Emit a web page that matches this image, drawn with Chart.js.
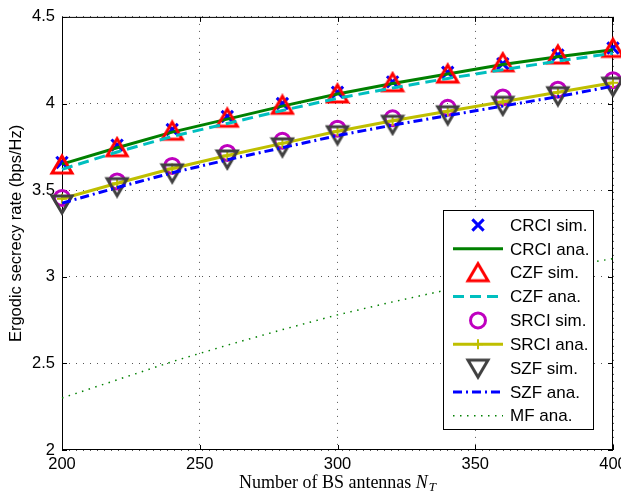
<!DOCTYPE html>
<html>
<head>
<meta charset="utf-8">
<script src="https://cdn.jsdelivr.net/npm/chart.js@4.4.0/dist/chart.umd.min.js"></script>
<style>
    html, body { margin: 0; padding: 0; background: #fff; overflow: hidden; }
    #wrap { width: 640px; height: 493px; }
</style>
</head>
<body>
<div id="wrap"><canvas id="chart" width="640" height="493"></canvas></div>
<script>
// values
const antennas = [200, 220, 240, 260, 280, 300, 320, 340, 360, 380, 400];
const crciSim = [3.66, 3.76, 3.85, 3.925, 4.00, 4.065, 4.125, 4.18, 4.23, 4.28, 4.32];
const crciAna = [3.65, 3.745, 3.835, 3.91, 3.985, 4.055, 4.115, 4.17, 4.225, 4.27, 4.31];
const czfSim = [3.645, 3.745, 3.84, 3.915, 3.99, 4.055, 4.12, 4.17, 4.235, 4.28, 4.318];
const czfAna = [3.62, 3.72, 3.81, 3.885, 3.96, 4.03, 4.09, 4.145, 4.195, 4.245, 4.29];
const srciSim = [3.455, 3.55, 3.64, 3.715, 3.785, 3.855, 3.915, 3.975, 4.035, 4.08, 4.135];
const srciAna = [3.45, 3.54, 3.625, 3.70, 3.77, 3.84, 3.90, 3.955, 4.01, 4.065, 4.12];
const szfSim = [3.42, 3.52, 3.60, 3.68, 3.75, 3.82, 3.88, 3.935, 3.99, 4.045, 4.10];
const szfAna = [3.425, 3.515, 3.60, 3.675, 3.745, 3.815, 3.875, 3.93, 3.985, 4.04, 4.10];
const mfAna = [2.30, 2.405, 2.51, 2.605, 2.695, 2.78, 2.855, 2.925, 2.99, 3.05, 3.105];

const xTicks = [200, 250, 300, 350, 400];
const yTicks = [2, 2.5, 3, 3.5, 4, 4.5];

const xTitle = 'Number of BS antennas ';
const yTitle = 'Ergodic secrecy rate (bps/Hz)';

const sansFont = '"Liberation Sans", Arial, sans-serif';
Chart.defaults.font.family = sansFont;
Chart.defaults.font.size = 16.5;
Chart.defaults.color = '#000';

function pts(values) {
    return antennas.map((a, i) => ({ x: a, y: values[i] }));
}

// matlab style triangle marker, centred on its bounding box
function triangleMarker(color, down) {
    const c = document.createElement('canvas');
    c.width = 26;
    c.height = 24;
    const g = c.getContext('2d');
    g.strokeStyle = color;
    g.lineWidth = 3;
    g.lineJoin = 'miter';
    g.beginPath();
    if (down) {
        g.moveTo(3, 4); g.lineTo(23, 4); g.lineTo(13, 21);
    } else {
        g.moveTo(13, 3); g.lineTo(23, 20); g.lineTo(3, 20);
    }
    g.closePath();
    g.stroke();
    return c;
}

function markerSet(label, values, style, color, radius) {
    return {
        label: label,
        data: pts(values),
        showLine: false,
        pointStyle: style,
        pointRadius: radius,
        pointBorderColor: color,
        pointBackgroundColor: 'rgba(0,0,0,0)',
        pointBorderWidth: 3,
        borderColor: color,
        clip: false
    };
}

function lineSet(label, values, color, width, dash) {
    return {
        label: label,
        data: pts(values),
        borderColor: color,
        borderWidth: width,
        borderDash: dash || [],
        pointRadius: 0,
        tension: 0,
        fill: false,
        clip: false
    };
}

const datasets = [
    markerSet('CRCI sim.', crciSim, 'crossRot', '#0000ff', 8),
    lineSet('CRCI ana.', crciAna, '#008000', 3),
    markerSet('CZF sim.', czfSim, triangleMarker('#ff0000', false), '#ff0000', 11),
    lineSet('CZF ana.', czfAna, '#00bfbf', 3, [11, 6]),
    markerSet('SRCI sim.', srciSim, 'circle', '#bf00bf', 7.5),
    Object.assign(lineSet('SRCI ana.', srciAna, '#bfbf00', 3), {
        pointRadius: 5, pointStyle: 'cross', pointBorderColor: '#bfbf00', pointBorderWidth: 2
    }),
    markerSet('SZF sim.', szfSim, triangleMarker('#404040', true), '#404040', 11),
    lineSet('SZF ana.', szfAna, '#0000ff', 3, [9, 4, 2, 4]),
    lineSet('MF ana.', mfAna, '#008000', 1.5, [1.5, 5.5])
];
// later series are painted over earlier ones
datasets.forEach((d, i) => { d.order = -i; });

const framePlugin = {
    id: 'frame',
    beforeDatasetsDraw(chart) {
        const { ctx, chartArea: a, scales } = chart;
        ctx.save();
        ctx.strokeStyle = '#000';
        ctx.lineWidth = 1;
        ctx.strokeRect(a.left + 0.5, a.top + 0.5, a.right - a.left - 1, a.bottom - a.top - 1);
        ctx.beginPath();
        xTicks.forEach(v => {
            const x = Math.round(scales.x.getPixelForValue(v)) + 0.5;
            ctx.moveTo(x, a.bottom); ctx.lineTo(x, a.bottom - 5);
            ctx.moveTo(x, a.top); ctx.lineTo(x, a.top + 5);
        });
        yTicks.forEach(v => {
            const y = Math.round(scales.y.getPixelForValue(v)) + 0.5;
            ctx.moveTo(a.left, y); ctx.lineTo(a.left + 5, y);
            ctx.moveTo(a.right, y); ctx.lineTo(a.right - 5, y);
        });
        ctx.stroke();
        ctx.restore();
    },
    afterDatasetsDraw(chart) {
        const { ctx, chartArea: a } = chart;
        ctx.save();

        // legend box
        const bx = 443, by = 210, bw = 150, bh = 219;
        ctx.fillStyle = '#fff';
        ctx.fillRect(bx, by, bw, bh);
        ctx.strokeStyle = '#000';
        ctx.lineWidth = 1;
        ctx.strokeRect(bx + 0.5, by + 0.5, bw, bh);

        chart.data.datasets.forEach((d, i) => {
            const cy = 225 + i * 23.85;
            if (d.showLine !== false) {
                ctx.save();
                ctx.strokeStyle = d.borderColor;
                ctx.lineWidth = d.borderWidth;
                ctx.setLineDash(d.borderDash || []);
                ctx.beginPath();
                ctx.moveTo(453, cy);
                ctx.lineTo(503, cy);
                ctx.stroke();
                ctx.restore();
            }
            if (d.pointRadius > 0) {
                ctx.save();
                ctx.strokeStyle = d.pointBorderColor;
                ctx.fillStyle = d.pointBackgroundColor || 'rgba(0,0,0,0)';
                ctx.lineWidth = d.pointBorderWidth;
                Chart.helpers.drawPoint(ctx, {
                    pointStyle: d.pointStyle,
                    radius: d.pointRadius,
                    rotation: 0,
                    borderWidth: d.pointBorderWidth
                }, 478, cy);
                ctx.restore();
            }
            ctx.fillStyle = '#000';
            ctx.font = '17px ' + sansFont;
            ctx.textBaseline = 'middle';
            ctx.textAlign = 'left';
            ctx.fillText(d.label, 510, cy + 1);
        });

        // x axis title with N_T
        ctx.fillStyle = '#000';
        ctx.textBaseline = 'alphabetic';
        ctx.textAlign = 'left';
        const serif = '"Liberation Serif", "Times New Roman", serif';
        const mainFont = '18px ' + serif;
        const italFont = 'italic 18px ' + serif;
        const subFont = 'italic 13px ' + serif;
        ctx.font = mainFont;
        const w1 = ctx.measureText(xTitle).width;
        ctx.font = italFont;
        const w2 = ctx.measureText('N').width;
        ctx.font = subFont;
        const w3 = ctx.measureText('T').width;
        const total = w1 + w2 + w3 + 1;
        let x = (a.left + a.right) / 2 - total / 2;
        const base = 488;
        ctx.font = mainFont;
        ctx.fillText(xTitle, x, base);
        x += w1;
        ctx.font = italFont;
        ctx.fillText('N', x, base);
        x += w2 + 1;
        ctx.font = subFont;
        ctx.fillText('T', x, base + 3);

        ctx.restore();
    }
};

new Chart(document.getElementById('chart'), {
    type: 'line',
    data: { datasets: datasets },
    options: {
        responsive: false,
        devicePixelRatio: 1,
        animation: false,
        layout: { padding: { left: 4, right: 27, top: 15, bottom: 0 } },
        plugins: {
            legend: { display: false },
            tooltip: { enabled: false }
        },
        scales: {
            x: {
                type: 'linear',
                min: 200,
                max: 400,
                afterBuildTicks: s => { s.ticks = xTicks.map(v => ({ value: v })); },
                afterFit: s => { s.height = 43; },
                grid: { color: '#555', lineWidth: 1, drawTicks: false },
                border: { display: false, dash: [1, 6] },
                ticks: { padding: 5, maxRotation: 0, autoSkip: false, color: '#000', callback: v => String(v) }
            },
            y: {
                type: 'linear',
                min: 2,
                max: 4.5,
                afterBuildTicks: s => { s.ticks = yTicks.map(v => ({ value: v })); },
                afterFit: s => { s.width = 58; },
                grid: { color: '#555', lineWidth: 1, drawTicks: false },
                border: { display: false, dash: [1, 6] },
                ticks: { padding: 7, color: '#000', callback: v => String(v) },
                title: {
                    display: true,
                    text: yTitle,
                    color: '#000',
                    font: { size: 16.5 },
                    padding: { top: 3, bottom: 0 }
                }
            }
        }
    },
    plugins: [framePlugin]
});
</script>
</body>
</html>
